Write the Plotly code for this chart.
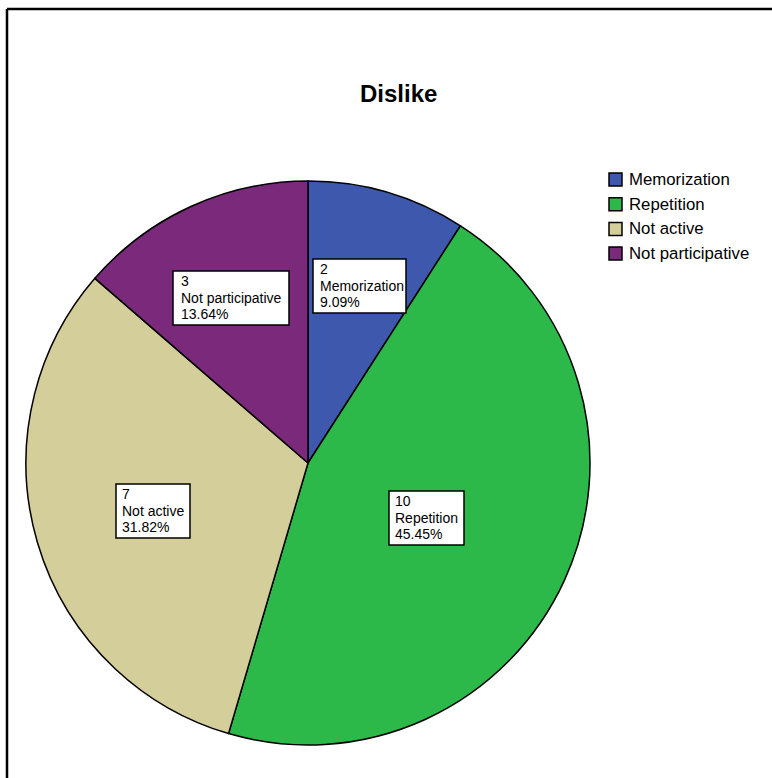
import plotly.graph_objects as go

# Survey responses: what students dislike
categories = ["Memorization", "Repetition", "Not active", "Not participative"]
counts = [2, 10, 7, 3]
colors = ["#3D58AD", "#2DB84A", "#D4CF9A", "#7A297B"]
title_text = "Dislike"

W, H = 772, 778
FONT = "Liberation Sans, Arial, sans-serif"


def px(x):
    return x / W


def py(y):
    return 1 - y / H


total = sum(counts)
percents = [c / total * 100 for c in counts]

fig = go.Figure(
    go.Pie(
        labels=categories,
        values=counts,
        sort=False,
        direction="clockwise",
        rotation=0,
        marker=dict(colors=colors, line=dict(color="black", width=1.5)),
        textinfo="none",
        hoverinfo="label+value+percent",
        showlegend=False,
        domain=dict(x=[px(26), px(590)], y=[py(745), py(181)]),
    )
)

shapes = []
annotations = []

# outer frame (left and top edges visible)
shapes.append(dict(type="line", xref="paper", yref="paper",
                   x0=px(7), y0=py(9), x1=1.01, y1=py(9),
                   line=dict(color="black", width=2.5)))
shapes.append(dict(type="line", xref="paper", yref="paper",
                   x0=px(7), y0=py(9), x1=px(7), y1=-0.01,
                   line=dict(color="black", width=2.5)))

# title
annotations.append(dict(text="<b>" + title_text + "</b>", xref="paper", yref="paper",
                        x=px(398.5), y=py(93), xanchor="center", yanchor="middle",
                        showarrow=False, font=dict(family=FONT, size=24, color="black")))

# data label boxes: (left, top, right, bottom) and text left edge, in pixels
label_boxes = [
    (313, 259, 406, 313, 318),
    (389, 491, 464, 545, 393),
    (116, 484, 190, 538, 120),
    (173, 271, 289, 325, 179),
]
line_offsets = [10, 27, 43]

for (x0, y0, x1, y1, tx), cat, cnt, pct in zip(label_boxes, categories, counts, percents):
    shapes.append(dict(type="rect", xref="paper", yref="paper",
                       x0=px(x0), y0=py(y0), x1=px(x1), y1=py(y1),
                       fillcolor="white", line=dict(color="black", width=1.5)))
    for off, txt in zip(line_offsets, [str(cnt), cat, f"{pct:.2f}%"]):
        annotations.append(dict(text=txt, xref="paper", yref="paper",
                                x=px(tx), y=py(y0 + off), xanchor="left", yanchor="middle",
                                showarrow=False,
                                font=dict(family=FONT, size=14, color="black")))

# legend
legend_tops = [173, 197.7, 222.4, 247]
for top, cat, col in zip(legend_tops, categories, colors):
    shapes.append(dict(type="rect", xref="paper", yref="paper",
                       x0=px(609), y0=py(top), x1=px(622), y1=py(top + 13),
                       fillcolor=col, line=dict(color="black", width=1.5)))
    annotations.append(dict(text=cat, xref="paper", yref="paper",
                            x=px(627), y=py(top + 6.5), xanchor="left", yanchor="middle",
                            showarrow=False,
                            font=dict(family=FONT, size=16.8, color="black")))

fig.update_layout(
    width=W, height=H, autosize=False,
    margin=dict(l=0, r=0, t=0, b=0),
    paper_bgcolor="white", plot_bgcolor="white",
    shapes=shapes, annotations=annotations,
    showlegend=False,
)

fig.write_html("out.html")
